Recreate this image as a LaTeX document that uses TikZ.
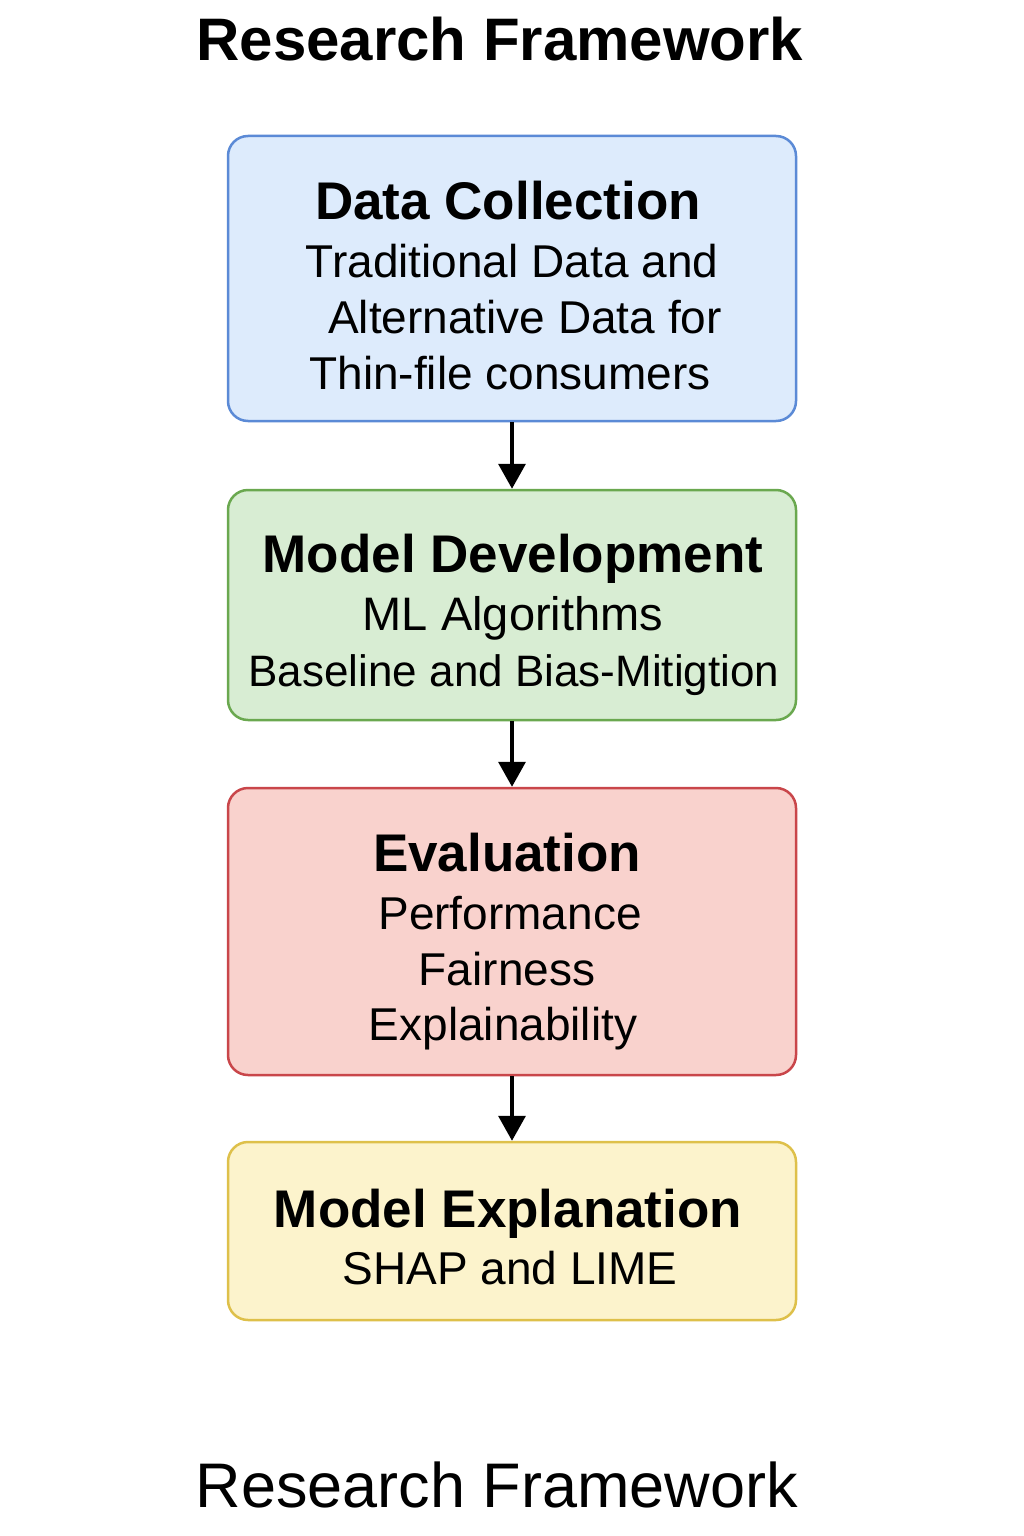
\documentclass[tikz,border=0pt]{standalone}
\usepackage{fontspec}
\setmainfont{Liberation Sans}
\usetikzlibrary{arrows.meta}
\definecolor{bfill}{HTML}{DDEBFC}
\definecolor{bdraw}{HTML}{5B8AD6}
\definecolor{gfill}{HTML}{D8EDD3}
\definecolor{gdraw}{HTML}{6AA84F}
\definecolor{rfill}{HTML}{F9D2CD}
\definecolor{rdraw}{HTML}{C9464A}
\definecolor{yfill}{HTML}{FCF3CC}
\definecolor{ydraw}{HTML}{DEC04A}
\tikzset{
  box/.style={draw, line width=2.5pt, rounded corners=20pt, minimum width=568pt, inner sep=0pt},
  head/.style={anchor=base, inner sep=0pt, font=\fontsize{53}{60}\selectfont\bfseries},
  body/.style={anchor=base, inner sep=0pt, font=\fontsize{46}{56}\selectfont},
  flow/.style={-{Triangle[width=27pt,length=25pt]}, line width=3.5pt, black},
}
\begin{document}
\begin{tikzpicture}[x=1pt,y=-1pt]
\useasboundingbox (0,0) rectangle (1024,1536);
\fill[white] (0,0) rectangle (1024,1536);

\node[anchor=base, inner sep=0pt, font=\fontsize{60}{66}\selectfont\bfseries] (title) at (500,61) {Research Framework};

\node[box, fill=bfill, draw=bdraw, minimum height=285pt] (b1) at (512,278.5) {};
\node[head] (h1) at (508,219) {Data Collection};
\node[body] (t11) at (512,277) {Traditional Data and};
\node[body] (t12) at (525,333) {Alternative Data for};
\node[body] (t13) at (510,389) {Thin-file consumers};

\node[box, fill=gfill, draw=gdraw, minimum height=230pt] (b2) at (512,605) {};
\node[head] (h2) at (513,572) {Model Development};
\node[body, font=\fontsize{47}{56}\selectfont] (t21) at (513,630) {ML Algorithms};
\node[body, font=\fontsize{44}{56}\selectfont] (t22) at (514,686) {Baseline and Bias-Mitigtion};

\node[box, fill=rfill, draw=rdraw, minimum height=287pt] (b3) at (512,931.5) {};
\node[head] (h3) at (507,871) {Evaluation};
\node[body] (t31) at (510,929) {Performance};
\node[body] (t32) at (507,985) {Fairness};
\node[body] (t33) at (503,1040) {Explainability};

\node[box, fill=yfill, draw=ydraw, minimum height=178pt] (b4) at (512,1231) {};
\node[head] (h4) at (508,1227) {Model Explanation};
\node[body] (t41) at (510,1284) {SHAP and LIME};

\node[anchor=base, inner sep=0pt, font=\fontsize{63}{70}\selectfont] (foot) at (497,1507) {Research Framework};

\draw[flow] (b1.south) -- (b2.north);
\draw[flow] (b2.south) -- (b3.north);
\draw[flow] (b3.south) -- (b4.north);
\end{tikzpicture}
\end{document}
